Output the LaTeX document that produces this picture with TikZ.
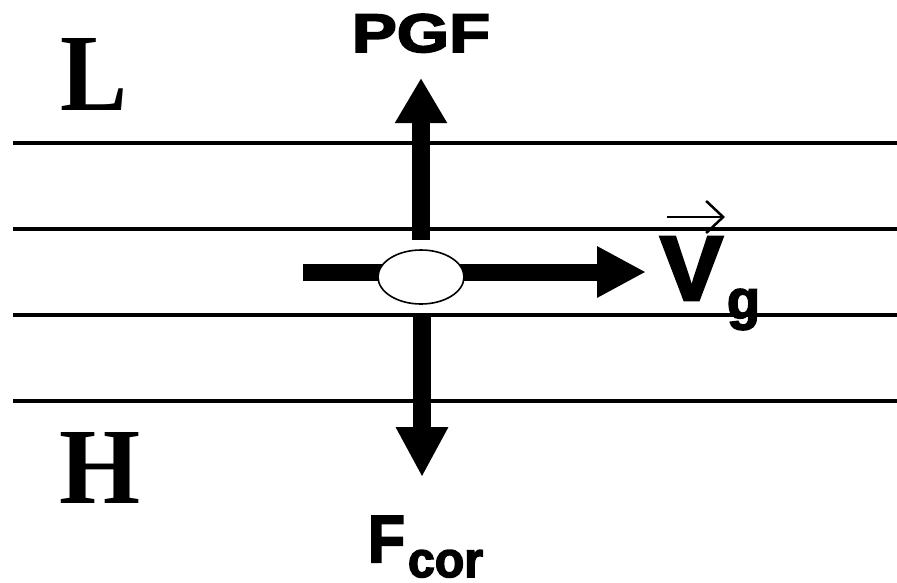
\documentclass[tikz,border=0pt]{standalone}
\usepackage{fontspec}
\usepackage{graphicx}
\usetikzlibrary{arrows.meta,shapes.geometric}
\newfontfamily\heavysans[UprightFont=* Bold,FakeBold=3]{Liberation Sans}
\newfontfamily\boldserif[UprightFont=* Bold]{Liberation Serif}
\tikzset{
  isobar/.style={line width=4.5pt},
  force/.style={line width=18pt},
  label/.style={inner sep=0pt,outer sep=0pt,anchor=north west},
  parcelshape/.style={ellipse,draw,line width=1.6pt,fill=white,
    minimum width=86pt,minimum height=54pt,inner sep=0pt},
}
\begin{document}
\begin{tikzpicture}[x=1pt,y=-1pt]
  \useasboundingbox (0,0) rectangle (897,582);
  % isobars
  \foreach \yy/\nm in {143/a,229/b,315/c,401/d}{
    \coordinate (iso\nm W) at (13,\yy);
    \coordinate (iso\nm E) at (897,\yy);
    \draw[isobar] (iso\nm W) -- (iso\nm E);
  }
  % force and velocity arrows
  \coordinate (pgfStart) at (421,240);
  \coordinate (pgfTip)   at (421,78);
  \coordinate (corStart) at (422,316);
  \coordinate (corTip)   at (422,477);
  \coordinate (velStart) at (303,272);
  \coordinate (velTip)   at (646,272);
  \draw[force,-{Triangle[length=45pt,width=49pt]}] (pgfStart) -- (pgfTip);
  \draw[force,-{Triangle[length=50pt,width=49pt]}] (corStart) -- (corTip);
  \draw[line width=17pt,-{Triangle[length=49pt,width=48pt]}] (velStart) -- (velTip);
  % air parcel
  \node[parcelshape] (parcel) at (421,277) {};
  % labels
  \node[label] (low)  at (60,38)   {\resizebox{67pt}{72pt}{\boldserif L}};
  \node[label] (high) at (59,432)  {\resizebox{81pt}{71pt}{\boldserif H}};
  \node[label] (pgf)  at (352,14)  {\resizebox{138pt}{38pt}{\heavysans PGF}};
  \node[label] (vV)   at (660,237) {\resizebox{63pt}{63pt}{\heavysans V}};
  \node[label] (vg)   at (727,289) {\resizebox*{33pt}{41pt}{\heavysans g}};
  \node[label] (fF)   at (368,516) {\resizebox{37pt}{46pt}{\heavysans F}};
  \node[label] (fcor) at (408,550) {\resizebox{75pt}{27pt}{\heavysans cor}};
  % vector sign over V
  \coordinate (vecL) at (667,217);
  \coordinate (vecR) at (725,217);
  \draw[line width=2.5pt,-{Straight Barb[length=17pt,width=32pt]}] (vecL) -- (vecR);
\end{tikzpicture}
\end{document}
